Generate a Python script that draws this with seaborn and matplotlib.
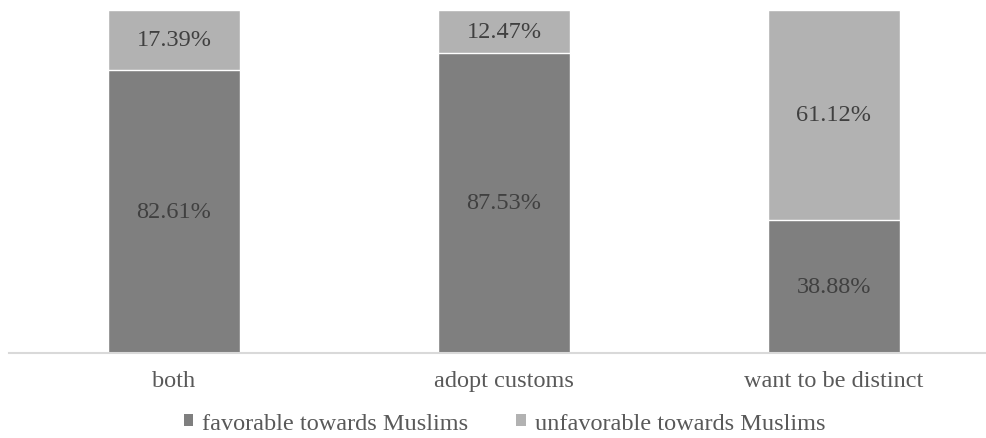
import pandas as pd
import matplotlib.pyplot as plt
import seaborn as sns
from matplotlib.patches import Patch

# chart data
categories = ["both", "adopt customs", "want to be distinct"]
favorable = [82.61, 87.53, 38.88]
unfavorable = [17.39, 12.47, 61.12]
series_names = ["favorable towards Muslims", "unfavorable towards Muslims"]

DARK = "#7f7f7f"
LIGHT = "#b2b2b2"
TEXT = "#404040"
FS = 17.5

sns.set_theme(style="white")
plt.rcParams["font.family"] = ["Liberation Serif", "DejaVu Serif"]

df = pd.DataFrame({
    "category": categories,
    "favorable": favorable,
    "unfavorable": unfavorable,
})
df["total"] = df["favorable"] + df["unfavorable"]

fig = plt.figure(figsize=(9.87, 4.39), dpi=100)
ax = fig.add_axes([9 / 987, 85 / 439, 978 / 987, 343 / 439])

# stacked bars: full height in light grey, favorable part on top in dark grey
sns.barplot(data=df, x="category", y="total", color=LIGHT, saturation=1,
            width=0.4, ax=ax, edgecolor="white", linewidth=1)
sns.barplot(data=df, x="category", y="favorable", color=DARK, saturation=1,
            width=0.4, ax=ax, edgecolor="white", linewidth=1)

for i, (f, u) in enumerate(zip(favorable, unfavorable)):
    ax.text(i, f / 2, f"{f:.2f}%", ha="center", va="center",
            fontsize=FS, color=TEXT)
    ax.text(i, f + u / 2, f"{u:.2f}%", ha="center", va="center",
            fontsize=FS, color=TEXT)

ax.set_xlim(-0.5, -0.5 + 978 / 330)
ax.set_ylim(0, 100)
ax.set_xlabel("")
ax.set_ylabel("")
ax.set_yticks([])
ax.tick_params(axis="x", length=0, pad=12, labelsize=FS, labelcolor="#595959")
for side in ["left", "right", "top"]:
    ax.spines[side].set_visible(False)
ax.spines["bottom"].set_color("#d9d9d9")
ax.spines["bottom"].set_linewidth(1.5)

handles = [Patch(facecolor=DARK, edgecolor="none"),
           Patch(facecolor=LIGHT, edgecolor="none")]
fig.legend(handles, series_names, loc="center", bbox_to_anchor=(0.511, 0.034),
           ncol=2, frameon=False, fontsize=FS, labelcolor="#595959",
           handlelength=0.4, handleheight=0.4, handletextpad=0.35,
           columnspacing=2.0, borderpad=0)

fig.savefig("out.png", dpi=100, facecolor="white")
